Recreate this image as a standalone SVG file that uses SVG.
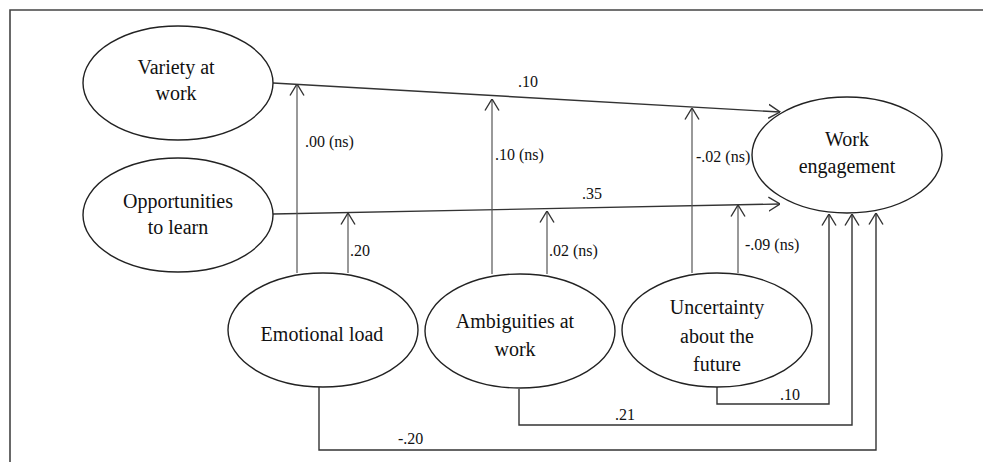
<svg xmlns="http://www.w3.org/2000/svg" width="983" height="462" viewBox="0 0 983 462" font-family="Times New Roman, Liberation Serif, serif">
<defs>
<marker id="arr" markerUnits="userSpaceOnUse" viewBox="0 0 12 16" markerWidth="12" markerHeight="16" refX="11.5" refY="8" orient="auto">
<path d="M0,1 L11.5,8 L0,15" fill="none" stroke="#333" stroke-width="1.4"/>
</marker>
</defs>
<rect width="983" height="462" fill="#fff"/>
<polyline points="10,462 10,10 983,10" fill="none" stroke="#444" stroke-width="1.6"/>
<g id="connectors" fill="none" stroke="#333" stroke-width="1.4">
<line x1="273" y1="83" x2="780" y2="112" marker-end="url(#arr)"/>
<line x1="273" y1="214" x2="780" y2="204" marker-end="url(#arr)"/>
<line x1="297" y1="273" x2="297" y2="84" stroke="#555" stroke-width="1.2" marker-end="url(#arr)"/>
<line x1="348" y1="273" x2="348" y2="213" stroke="#555" stroke-width="1.2" marker-end="url(#arr)"/>
<line x1="492" y1="274" x2="492" y2="99" stroke="#555" stroke-width="1.2" marker-end="url(#arr)"/>
<line x1="547" y1="274" x2="547" y2="211" stroke="#555" stroke-width="1.2" marker-end="url(#arr)"/>
<line x1="692" y1="273" x2="692" y2="108" stroke="#555" stroke-width="1.2" marker-end="url(#arr)"/>
<line x1="738" y1="273" x2="738" y2="205" stroke="#555" stroke-width="1.2" marker-end="url(#arr)"/>
<polyline points="717,387 717,404 829,404 829,214" marker-end="url(#arr)"/>
<polyline points="519,389 519,425 852,425 852,214" marker-end="url(#arr)"/>
<polyline points="319,387 319,450 876,450 876,213" marker-end="url(#arr)"/>
</g>
<g id="labels" fill="#111" stroke="none" font-size="16" font-family="Times New Roman, Liberation Serif, serif">
<text x="518" y="87">.10</text>
<text x="582" y="199">.35</text>
<text x="305" y="147">.00 (ns)</text>
<text x="350" y="256">.20</text>
<text x="495" y="160">.10 (ns)</text>
<text x="549" y="256">.02 (ns)</text>
<text x="696" y="162">-.02 (ns)</text>
<text x="745" y="250">-.09 (ns)</text>
<text x="780" y="400">.10</text>
<text x="615" y="420">.21</text>
<text x="398" y="444">-.20</text>
</g>
<g id="variety" font-size="20" text-anchor="middle" font-family="Times New Roman, Liberation Serif, serif">
<ellipse cx="178" cy="83" rx="95" ry="57" fill="#fff" stroke="#222" stroke-width="1.4"/>
<text x="176" y="74" fill="#111">Variety at</text>
<text x="176" y="100" fill="#111">work</text>
</g>
<g id="opportunities" font-size="20" text-anchor="middle" font-family="Times New Roman, Liberation Serif, serif">
<ellipse cx="178" cy="215" rx="95" ry="57" fill="#fff" stroke="#222" stroke-width="1.4"/>
<text x="178" y="208" fill="#111">Opportunities</text>
<text x="178" y="234" fill="#111">to learn</text>
</g>
<g id="engagement" font-size="20" text-anchor="middle" font-family="Times New Roman, Liberation Serif, serif">
<ellipse cx="847" cy="155" rx="95" ry="58" fill="#fff" stroke="#222" stroke-width="1.4"/>
<text x="847" y="146" fill="#111">Work</text>
<text x="847" y="173" fill="#111">engagement</text>
</g>
<g id="emotional" font-size="20" text-anchor="middle" font-family="Times New Roman, Liberation Serif, serif">
<ellipse cx="323" cy="330" rx="95" ry="57" fill="#fff" stroke="#222" stroke-width="1.4"/>
<text x="322" y="341" fill="#111">Emotional load</text>
</g>
<g id="ambiguities" font-size="20" text-anchor="middle" font-family="Times New Roman, Liberation Serif, serif">
<ellipse cx="520" cy="331" rx="95" ry="57" fill="#fff" stroke="#222" stroke-width="1.4"/>
<text x="515" y="328" fill="#111">Ambiguities at</text>
<text x="515" y="356" fill="#111">work</text>
</g>
<g id="uncertainty" font-size="20" text-anchor="middle" font-family="Times New Roman, Liberation Serif, serif">
<ellipse cx="717" cy="330" rx="95" ry="57" fill="#fff" stroke="#222" stroke-width="1.4"/>
<text x="717" y="314" fill="#111">Uncertainty</text>
<text x="717" y="343" fill="#111">about the</text>
<text x="717" y="371" fill="#111">future</text>
</g>
</svg>
